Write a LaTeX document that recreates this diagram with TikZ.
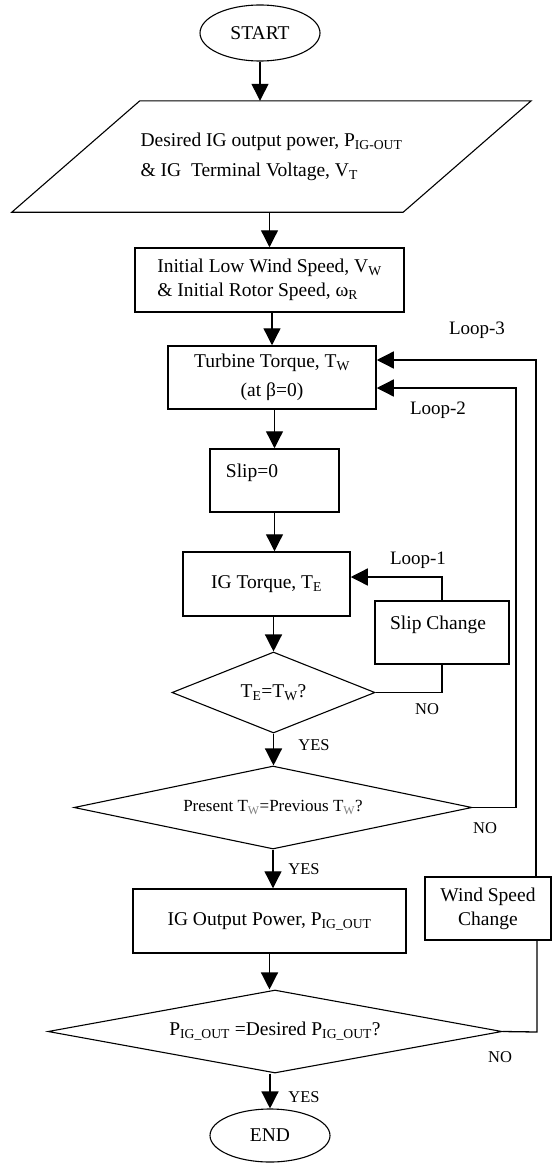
\documentclass[tikz,border=0pt]{standalone}
\usepackage{fontspec}
\setmainfont{Liberation Serif}
\usetikzlibrary{shapes.geometric,arrows.meta,calc}
\begin{document}
\begin{tikzpicture}[x=1pt,y=-1pt,
  every node/.style={font=\fontsize{19.5}{24}\selectfont, inner sep=0pt},
  proc/.style={draw, line width=1.5pt, rectangle},
  term/.style={draw, line width=1.1pt, ellipse},
  dec/.style={draw, line width=1.1pt, diamond},
  lab/.style={font=\fontsize{16.5}{18}\selectfont},
  looplab/.style={font=\fontsize{19}{22}\selectfont},
  conn/.style={line width=1.3pt},
  arr/.style={conn, -{Triangle[width=17pt,length=17pt]}},
]
\useasboundingbox[fill=white] (0,0) rectangle (552,1164);

% terminals and blocks
\node[term, minimum width=120, minimum height=56] (start) at (260,33) {START};

\node[minimum width=391, minimum height=111, align=left] (input) at (271.5,156.5)
  {Desired IG output power, P\textsubscript{IG-OUT}\\[6pt]\& IG\ \ Terminal Voltage, V\textsubscript{T}};
\draw[line width=1.1pt] ($(input.south west)+(-64,0)$) -- ($(input.south east)+(-64,0)$)
  -- ($(input.north east)+(64,0)$) -- ($(input.north west)+(64,0)$) -- cycle;

\node[proc, minimum width=269, minimum height=64, align=left] (init) at (269.5,280)
  {Initial Low Wind Speed, V\textsubscript{W}\\\& Initial Rotor Speed, ω\textsubscript{R}};

\node[proc, minimum width=208, minimum height=63, align=center] (tw) at (272,377.5)
  {Turbine Torque, T\textsubscript{W}\\[5pt](at β=0)};

\node[proc, minimum width=129, minimum height=63] (slip0) at (274.5,480.5) {};
\node (slip0t) at (252,473) {Slip=0};

\node[proc, minimum width=167, minimum height=64] (igt) at (266.5,584) {IG Torque, T\textsubscript{E}};

\node[proc, minimum width=134, minimum height=63] (slipch) at (442,632.5) {};
\node (slipcht) at (438,625) {Slip Change};

\node[dec, shape aspect=2.5, minimum width=203, minimum height=81] (d1) at (273.5,692.5)
  {T\textsubscript{E}=T\textsubscript{W}?};

\node[dec, shape aspect=4.8, minimum width=398, minimum height=83, font=\fontsize{17}{20}\selectfont] (d2) at (273,807.5)
  {Present T\textsubscript{\color{gray}W}=Previous T\textsubscript{\color{gray}W}?};

\node[proc, minimum width=273, minimum height=64] (igout) at (269.5,921)
  {IG Output Power, P\textsubscript{IG\_OUT}};

\node[proc, minimum width=126, minimum height=63, align=center] (wsc) at (488,908.5)
  {Wind Speed\\Change};

\node[dec, shape aspect=5.47, minimum width=454, minimum height=83] (d3) at (275,1031.5)
  {P\textsubscript{IG\_OUT} =Desired P\textsubscript{IG\_OUT}?};

\node[term, minimum width=120, minimum height=53] (stop) at (270,1135.5) {END};

% main flow
\draw[arr] (start.south) -- (start.south |- input.north);
\draw[arr] (init.north |- input.south) -- (init.north);
\draw[arr] (tw.north |- init.south) -- (tw.north);
\draw[arr] (slip0.north |- tw.south) -- (slip0.north);
\draw[arr] (slip0.south) -- (slip0.south |- igt.north);
\draw[arr] (d1.north |- igt.south) -- (d1.north);
\draw[arr] (d1.south) -- (d1.south |- d2.north);
\draw[arr] (d2.south) -- (d2.south |- igout.north);
\draw[arr] (igout.south) -- (igout.south |- d3.north);
\draw[arr] (stop.north |- d3.south) -- (stop.north);

% loop 1
\coordinate (l1) at (442,577);
\draw[arr] (slipch.north) -- (l1) -- (igt.east |- l1);
\draw[conn] (d1.east) -- (d1.east -| slipch.south) -- (slipch.south);

% loop 2
\coordinate (l2) at (516,388);
\draw[arr] (d2.east) -- (d2.east -| l2) -- (l2) -- (tw.east |- l2);

% loop 3
\coordinate (l3b) at (537,1032);
\draw[conn] (d3.east) -- (l3b) -- (l3b |- wsc.south);
\coordinate (l3) at (536,360);
\draw[arr] (l3 |- wsc.north) -- (l3) -- (tw.east |- l3);

% labels
\node[lab] (yes1) at (314,745) {YES};
\node[lab] (yes2) at (304,869) {YES};
\node[lab] (yes3) at (304,1097) {YES};
\node[lab] (no1) at (427,709) {NO};
\node[lab] (no2) at (485,828) {NO};
\node[lab] (no3) at (500,1057) {NO};
\node[looplab] (loop1) at (418,560) {Loop-1};
\node[looplab] (loop2) at (438,410) {Loop-2};
\node[looplab] (loop3) at (477,330) {Loop-3};
\end{tikzpicture}
\end{document}
